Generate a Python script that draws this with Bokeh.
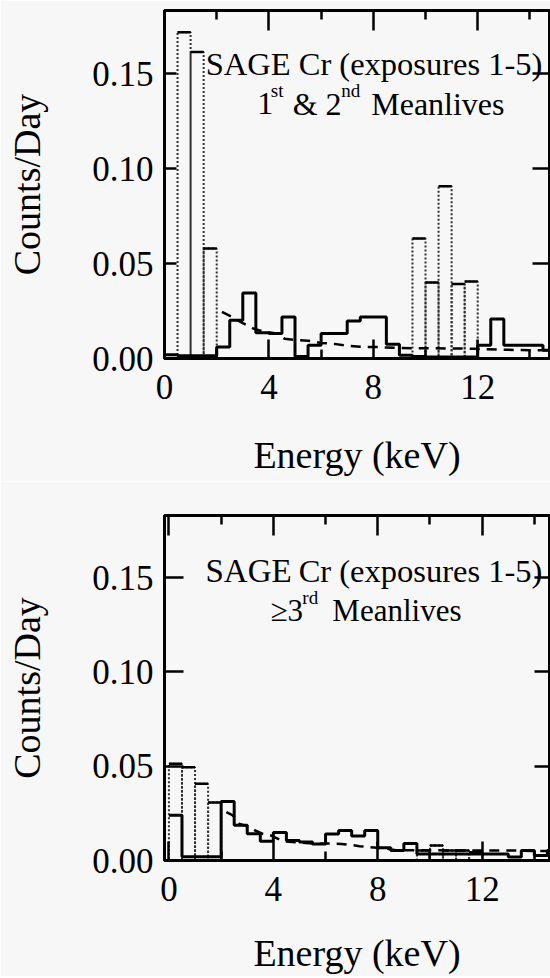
from bokeh.plotting import figure
from bokeh.models import FixedTicker, LinearAxis, Range1d, PrintfTickFormatter
from bokeh.layouts import column
from bokeh.core.properties import value
from bokeh.embed import file_html
from bokeh.resources import INLINE

FONT = "Liberation Serif"
BG = "#f7f7f7"

# ---------------- data ----------------
energy_lo = [0.0, 0.5, 1.0, 1.5, 2.0, 2.5, 3.0, 3.5, 4.0, 4.5, 5.0, 5.5, 6.0, 6.5, 7.0,
             7.5, 8.0, 8.5, 9.0, 9.5, 10.0, 10.5, 11.0, 11.5, 12.0, 12.5, 13.0, 13.5, 14.0, 14.5]
energy_hi_end = 15.0
bin_w = 0.5

# top panel: 1st & 2nd meanlives
top_solid = [0.0020, 0.0015, 0.0015, 0.0015, 0.0061, 0.0202, 0.0345, 0.0135, 0.0132, 0.0219,
             0.0010, 0.0070, 0.0132, 0.0132, 0.0198, 0.0219, 0.0219, 0.0075, 0.0017, 0.0010,
             0.0008, 0.0008, 0.0008, 0.0008, 0.0070, 0.0208, 0.0070, 0.0070, 0.0070, 0.0044]
top_peak_lo = [0.5, 1.0, 1.5, 9.5, 10.0, 10.5, 11.0, 11.5]
top_peak = [0.1719, 0.1614, 0.0579, 0.0632, 0.0400, 0.0907, 0.0393, 0.0405]
top_dash_E = [2.2, 2.6, 3.0, 3.4, 3.8, 4.4, 4.6, 5.0, 5.5, 6.0, 6.5, 7.0, 7.5, 8.2, 9.0,
              10.0, 11.0, 12.0, 13.0, 14.0, 15.0]
top_dash = [0.0245, 0.0218, 0.0186, 0.0158, 0.0141, 0.0130, 0.0104, 0.0098, 0.0094, 0.0082,
            0.0077, 0.0067, 0.0062, 0.0060, 0.0055, 0.0054, 0.0053, 0.0051, 0.0046, 0.0044, 0.0044]

# bottom panel: >=3rd meanlives
bot_solid = [0.0240, 0.0020, 0.0020, 0.0020, 0.0313, 0.0187, 0.0142, 0.0102, 0.0148, 0.0106,
             0.0098, 0.0088, 0.0141, 0.0159, 0.0130, 0.0159, 0.0068, 0.0053, 0.0090, 0.0035,
             0.0035, 0.0035, 0.0035, 0.0035, 0.0035, 0.0035, 0.0018, 0.0053, 0.0027, 0.0053]
bot_peak_lo = [0.0, 0.5, 1.0, 1.5, 9.5, 10.0, 10.5, 11.0, 11.5]
bot_peak = [0.0513, 0.0495, 0.0407, 0.0308, 0.0053, 0.0080, 0.0053, 0.0053, 0.0044]
bot_dash_E = [2.2, 2.45, 2.7, 3.1, 3.3, 3.6, 3.9, 4.4, 5.0, 5.7, 6.1, 6.6, 7.0, 7.3, 8.2,
              8.7, 10.0, 12.0, 13.2, 14.0, 15.0]
bot_dash = [0.0256, 0.0239, 0.0194, 0.0177, 0.0159, 0.0141, 0.0133, 0.0101, 0.0095, 0.0088,
            0.0090, 0.0088, 0.0082, 0.0076, 0.0065, 0.0055, 0.0054, 0.0053, 0.0053, 0.0050, 0.0050]

x_ticks = [0, 4, 8, 12]
x_minor = [2, 6, 10, 14]
y_ticks = [0.0, 0.05, 0.10, 0.15]

FIG_W = 550


def make_panel(height, mb_left, mb_top, mb_bottom, x0, x1, y1,
               solid, peak_lo, peak, dash_E, dash, ltick, rtick, lab_standoff, ylab_standoff):
    p = figure(width=FIG_W, height=height, x_range=Range1d(x0, x1), y_range=Range1d(0, y1),
               output_backend="svg", toolbar_location=None,
               min_border_left=mb_left, min_border_right=1,
               min_border_top=mb_top, min_border_bottom=mb_bottom,
               background_fill_color=BG, border_fill_color=BG,
               outline_line_color="black", outline_line_width=3)
    p.xgrid.visible = False
    p.ygrid.visible = False

    xt = FixedTicker(ticks=x_ticks, minor_ticks=x_minor)
    yt = FixedTicker(ticks=y_ticks, minor_ticks=[])

    xa = p.xaxis[0]
    xa.ticker = xt
    xa.axis_label = "Energy (keV)"
    xa.axis_label_text_font = FONT
    xa.axis_label_text_font_size = "38px"
    xa.axis_label_text_font_style = "normal"
    xa.axis_label_text_color = "black"
    xa.axis_label_standoff = lab_standoff
    xa.major_label_text_font = FONT
    xa.major_label_text_font_size = "35px"
    xa.major_label_text_color = "black"
    xa.major_label_standoff = 16
    xa.major_tick_in = 19
    xa.major_tick_out = 0
    xa.minor_tick_in = 9
    xa.minor_tick_out = 0
    xa.major_tick_line_width = 2.5
    xa.minor_tick_line_width = 2.5
    xa.axis_line_width = 3

    ya = p.yaxis[0]
    ya.ticker = yt
    ya.formatter = PrintfTickFormatter(format="%.2f")
    ya.axis_label = "Counts/Day"
    ya.axis_label_text_font = FONT
    ya.axis_label_text_font_size = "38px"
    ya.axis_label_text_font_style = "normal"
    ya.axis_label_text_color = "black"
    ya.axis_label_standoff = ylab_standoff
    ya.major_label_text_font = FONT
    ya.major_label_text_font_size = "35px"
    ya.major_label_text_color = "black"
    ya.major_label_standoff = 11
    ya.major_tick_in = ltick
    ya.major_tick_out = 0
    ya.major_tick_line_width = 2.5
    ya.axis_line_width = 3

    top_ax = LinearAxis(ticker=xt, major_label_text_font_size="1px", major_label_text_color=None,
                        major_label_standoff=0,
                        major_tick_in=20, major_tick_out=0, minor_tick_in=9, minor_tick_out=0,
                        major_tick_line_width=2.5, minor_tick_line_width=2.5, axis_line_width=3)
    p.add_layout(top_ax, "above")
    right_ax = LinearAxis(ticker=yt, major_label_text_font_size="1px", major_label_text_color=None,
                          major_label_standoff=0,
                          major_tick_in=rtick, major_tick_out=0, major_tick_line_width=2.5,
                          axis_line_width=3)
    p.add_layout(right_ax, "right")

    # peak-window bars (dotted outlines, solid tops)
    rights = [lo + bin_w for lo in peak_lo]
    p.quad(left=peak_lo, right=rights, bottom=[0] * len(peak_lo), top=peak,
           fill_color=None, line_color="#303030", line_width=2, line_dash="2 2")
    p.segment(x0=peak_lo, y0=peak, x1=rights, y1=peak, line_color="black", line_width=2.5)

    # full histogram (solid step)
    xs = energy_lo + [energy_hi_end]
    ys = solid + [solid[-1]]
    p.step(x=xs, y=ys, mode="after", line_color="black", line_width=3)

    # background estimate (dashed)
    p.line(x=dash_E, y=dash, line_color="black", line_width=2.5, line_dash="10 7")
    return p


def put_text(p, x, y, txt, size):
    p.text(x=[x], y=[y], text=[txt], text_font=value(FONT), text_font_size=value(size),
           text_align="left", text_baseline="alphabetic", text_color="black")


p1 = make_panel(481, 164, 10, 123, 0.0, 14.75, 0.1833,
                top_solid, top_peak_lo, top_peak, top_dash_E, top_dash, 12, 17, 32, 41)
put_text(p1, 1.58, 0.1553, "SAGE Cr (exposures 1-5)", "32.5px")
put_text(p1, 3.55, 0.1342, "1", "32px")
put_text(p1, 4.07, 0.1412, "st", "19px")
put_text(p1, 4.91, 0.1342, "& 2", "32px")
put_text(p1, 6.77, 0.1412, "nd", "19px")
put_text(p1, 7.92, 0.1342, "Meanlives", "32px")

p2 = make_panel(495, 164, 34, 116, -0.17, 14.58, 0.1829,
                bot_solid, bot_peak_lo, bot_peak, bot_dash_E, bot_dash, 19, 15, 28, 41)
put_text(p2, 1.40, 0.1534, "SAGE", "33px")
put_text(p2, 4.97, 0.1534, "Cr (exposures 1-5)", "32.5px")
put_text(p2, 3.89, 0.1326, "\u22653", "31px")
put_text(p2, 5.11, 0.1394, "rd", "19px")
put_text(p2, 6.26, 0.1326, "Meanlives", "31px")

layout = column(p1, p2, spacing=0)
open("out.html", "w").write(file_html(layout, INLINE))
